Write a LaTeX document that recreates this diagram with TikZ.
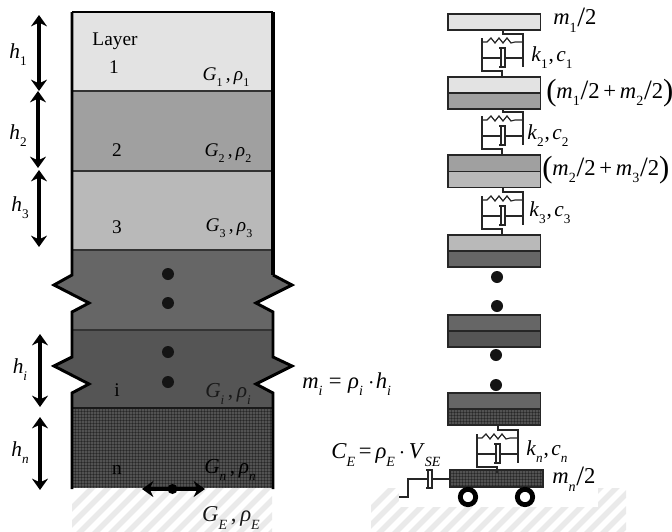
\documentclass[tikz,border=0pt]{standalone}
\usepackage{fontspec}
\setmainfont{Liberation Serif}
\usetikzlibrary{arrows.meta}
\newcommand{\lsub}[1]{\raisebox{-.32em}{\fontsize{.62em}{.7em}\selectfont #1}}
\newcommand{\isub}[1]{\lsub{\itshape #1}}
\newcommand{\vG}{\textit{G}}
\newcommand{\vr}{\textit{ρ}}
\newcommand{\slsh}{\kern.5pt{\fontsize{21pt}{21pt}\selectfont\raisebox{-.05em}{/}}}
\newcommand{\lpr}{{\fontsize{23pt}{23pt}\selectfont\raisebox{-.06em}{(}}}
\newcommand{\rpr}{{\fontsize{23pt}{23pt}\selectfont\raisebox{-.06em}{)}}}
\newcommand{\pairG}[1]{\vG\lsub{\itshape #1}\,,\,\vr\lsub{\itshape #1}}
\newcommand{\pairU}[1]{\vG\lsub{#1}\,,\,\vr\lsub{#1}}
\newcommand{\pairK}[1]{\textit{k}\lsub{#1}\kern.8pt,\kern1.8pt\textit{c}\lsub{#1}}
\definecolor{cA}{HTML}{E3E3E3}
\definecolor{cB}{HTML}{A0A0A0}
\definecolor{cC}{HTML}{B9B9B9}
\definecolor{cD}{HTML}{666666}
\definecolor{cE}{HTML}{555555}
\definecolor{cF}{HTML}{525252}
\definecolor{cH}{HTML}{EAEAEA}
\tikzset{
  x=.75pt,y=-.75pt,
  txt/.style={inner sep=0pt,font=\fontsize{14.5pt}{16pt}\selectfont},
  txtm/.style={inner sep=0pt,font=\fontsize{16pt}{18pt}\selectfont},
  txtb/.style={inner sep=0pt,font=\fontsize{17pt}{19pt}\selectfont},
  dim/.style={line width=2.3pt,{Stealth[length=8.5pt,width=12pt,inset=2.8pt]}-{Stealth[length=8.5pt,width=12pt,inset=2.8pt]}},
  sep/.style={line width=1.1pt,black!80},
  massbox/.style={draw=black!85,line width=1.1pt},
  mech/.style={line width=.9pt,black!85},
  blob/.style={circle,fill=black!92,inner sep=0pt,minimum size=9pt},
  grain/.style={black,line width=.25pt,opacity=.3},
}
\newcommand{\unit}[2]{
\begin{scope}[shift={(#1,#2)}]
 \draw[mech] (503,30) -- (503,34) -- (523,34) -- (523,67);
 \draw[mech] (482,38) -- (482,71) -- (502,71) -- (502,77);
 \draw[mech] (482,42) -- (487,42) -- (491,38) -- (495,43) -- (499,38) -- (503,43) -- (507,38) -- (511,43) -- (515,42) -- (523,42);
 \draw[mech] (481,58) -- (501,58);
 \draw[mech] (501,49) -- (501,67);
 \draw[mech] (499,48) -- (505,48) -- (505,67) -- (499,67);
 \draw[mech] (505,58) -- (523,58);
\end{scope}}
\newcommand{\twobox}[4]{
 \fill[#3] (448,#1) rectangle (540.5,#2);
 \fill[#4] (448,#2) rectangle (540.5,#2+16);
 \draw[massbox] (448,#1) rectangle (540.5,#2+16);
 \draw[massbox] (448,#2) -- (540.5,#2);
}
\begin{document}
\begin{tikzpicture}
\useasboundingbox (0,0) rectangle (672,532);
\begin{scope}
 \clip (72,488) rectangle (272,532);
 \foreach \k in {0,...,24} \draw[cH,line width=4.2pt] (40+\k*16,540) -- (40+\k*16+60,480);
\end{scope}
\begin{scope}
 \clip (371,488) rectangle (626,532);
 \foreach \k in {0,...,24} \draw[cH,line width=4.2pt] (340+\k*16,540) -- (340+\k*16+60,480);
\end{scope}
\fill[white] (399,488) rectangle (598,507);
% layers
\fill[cA] (72,12) rectangle (273,91);
\fill[cB] (72,91) rectangle (273,171);
\fill[cC] (72,171) rectangle (273,250);
\fill[cD] (72,250) -- (273,250) -- (273,275) -- (292,285) -- (256,303) -- (273,312) -- (273,330) -- (72,330) -- (72,312) -- (89,303) -- (54,285) -- (72,275) -- cycle;
\fill[cE] (72,330) -- (273,330) -- (273,357) -- (292,366) -- (256,384) -- (273,393) -- (273,408) -- (72,408) -- (72,393) -- (89,384) -- (54,366) -- (72,357) -- cycle;
\fill[cF] (72,408) rectangle (273,488);
\begin{scope}
 \clip (72,408) rectangle (273,488);
 \foreach \k in {0,...,67} \draw[grain] (72+\k*3,408) -- (72+\k*3,488);
 \foreach \k in {0,...,27} \draw[grain] (72,408+\k*3) -- (273,408+\k*3);
\end{scope}
\draw[line width=.9pt,black] (72,12) -- (273,12);
\foreach \yy in {91,171,250} \draw[sep] (72,\yy) -- (273,\yy);
\draw[sep] (72,330) -- (273,330);
\draw[line width=1.4pt,black!90] (72,408) -- (273,408);
% side walls
\draw[line width=2.2pt,line join=miter] (72,12) -- (72,275) -- (54,285) -- (89,303) -- (72,312) -- (72,357) -- (54,366) -- (89,384) -- (72,393) -- (72,489);
\draw[line width=2.8pt,line join=miter] (273,12) -- (273,275);
\draw[line width=2.2pt,line join=miter] (273,275) -- (292,285) -- (256,303) -- (273,312) -- (273,357) -- (292,366) -- (256,384) -- (273,393) -- (273,489);
\node[blob] (d1) at (168,274) {};
\node[blob] (d2) at (168,303) {};
\node[blob] (d3) at (168,352) {};
\node[blob] (d4) at (168,382) {};
% dimension arrows
\coordinate (a1) at (39,15); \coordinate (a2) at (39,91);
\coordinate (b1) at (38,91); \coordinate (b2) at (38,168);
\coordinate (c1) at (39,170); \coordinate (c2) at (39,247);
\coordinate (e1) at (40,334); \coordinate (e2) at (40,407);
\coordinate (f1) at (40,417); \coordinate (f2) at (40,490);
\draw[dim] (a1) -- (a2);
\draw[dim] (b1) -- (b2);
\draw[dim] (c1) -- (c2);
\draw[dim] (e1) -- (e2);
\draw[dim] (f1) -- (f2);
\coordinate (g1) at (142,489); \coordinate (g2) at (205,489);
\draw[dim] (g1) -- (g2);
\node[circle,fill=black,inner sep=0pt,minimum size=7.5pt] (gd) at (172.5,489) {};
% left labels
\node[txtm] (th1) at (18,55) {\textit{h}\lsub{1}};
\node[txtm] (th2) at (18,136) {\textit{h}\lsub{2}};
\node[txtm] (th3) at (20,208) {\textit{h}\lsub{3}};
\node[txtm] (thi) at (20,370) {\textit{h}\isub{i}};
\node[txtm] (thn) at (20,453) {\textit{h}\isub{n}};
\node[txt] (tLayer) at (115,41) {Layer};
\node[txt] (t1) at (114,67) {1};
\node[txt] (t2) at (117,150) {2};
\node[txt] (t3) at (117,227) {3};
\node[txt,text=black] (ti) at (117,390) {i};
\node[txt,text=black] (tn) at (117,470) {n};
\node[txt] (tG1) at (226,77) {\pairU{1}};
\node[txt] (tG2) at (228,153) {\pairU{2}};
\node[txt] (tG3) at (229,228) {\pairU{3}};
\node[txtm,text=black!90] (tGi) at (228,394) {\pairG{i}};
\node[txtm,text=black] (tGn) at (230,470) {\pairG{n}};
\node[txtb,text=black!90] (tGE) at (231,518) {\pairG{E}};
\node[txtb,anchor=west] (tmi) at (302,384) {\textit{m}\isub{i}\,\kern2pt=\kern2pt\,\vr\isub{i}\,\kern1pt$\cdot$\kern1pt\textit{h}\isub{i}};
% masses
\fill[cA] (448,14) rectangle (540.5,30);
\draw[massbox] (448,14) rectangle (540.5,30);
\twobox{77}{93}{cA}{cB}
\twobox{155}{171.5}{cB}{cC}
\twobox{235}{251}{cC}{cD}
\twobox{315}{331}{cD}{cE}
\fill[cD] (448,393) rectangle (540.5,409);
\fill[cF] (448,409) rectangle (540.5,425);
\begin{scope}
 \clip (448,409) rectangle (540.5,425);
 \foreach \k in {0,...,31} \draw[grain] (448+\k*3,409) -- (448+\k*3,425);
 \foreach \k in {0,...,6} \draw[grain] (448,409+\k*3) -- (541,409+\k*3);
\end{scope}
\draw[massbox] (448,393) rectangle (540.5,425);
\draw[massbox] (448,409) -- (540.5,409);
\fill[cF] (450,470) rectangle (543,487);
\begin{scope}
 \clip (450,470) rectangle (543,487);
 \foreach \k in {0,...,31} \draw[grain] (450+\k*3,470) -- (450+\k*3,487);
 \foreach \k in {0,...,6} \draw[grain] (450,470+\k*3) -- (543,470+\k*3);
\end{scope}
\draw[massbox] (450,470) rectangle (543,487);
\unit{0}{0}
\unit{0}{78}
\unit{0}{158}
\unit{-5}{396}
\node[blob] (r1) at (497,277) {};
\node[blob] (r2) at (497,306) {};
\node[blob] (r3) at (496,355) {};
\node[blob] (r4) at (496,385) {};
\node[circle,draw=black,line width=3.6pt,inner sep=0pt,minimum size=11.5pt] (w1) at (468,497) {};
\node[circle,draw=black,line width=3.6pt,inner sep=0pt,minimum size=11.5pt] (w2) at (525,497) {};
% base damper
\coordinate (dm) at (450,479);
\draw[mech] (dm) -- (432,479);
\draw[mech] (426,470) -- (432,470) -- (432,488) -- (426,488);
\draw[mech] (428,471) -- (428,487);
\draw[mech] (428,479) -- (408,479) -- (408,497) -- (399,497);
% right labels
\node[txtb,anchor=west] (tm1) at (553,20) {\textit{m}\lsub{1}\slsh 2};
\node[txtm,anchor=west] (tk1) at (531,58) {\pairK{1}};
\node[txtb,anchor=west] (tm12) at (546,93) {\lpr\textit{m}\lsub{1}\slsh 2\,+\,\textit{m}\lsub{2}\slsh 2\rpr};
\node[txtm,anchor=west] (tk2) at (527,136) {\pairK{2}};
\node[txtb,anchor=west] (tm23) at (542,170) {\lpr\textit{m}\lsub{2}\slsh 2\,+\,\textit{m}\lsub{3}\slsh 2\rpr};
\node[txtm,anchor=west] (tk3) at (529,213) {\pairK{3}};
\node[txtm,anchor=west] (tkn) at (526,452) {\textit{k}\isub{n}\kern.8pt,\kern1.8pt\textit{c}\isub{n}};
\node[txtb,anchor=west] (tCE) at (331,455) {\textit{C}\isub{E}\,=\,\vr\isub{E}\,$\cdot$\,\textit{V}\isub{SE}};
\node[txtb,anchor=west] (tmn) at (552,479) {\textit{m}\isub{n}\slsh 2};
\end{tikzpicture}
\end{document}
